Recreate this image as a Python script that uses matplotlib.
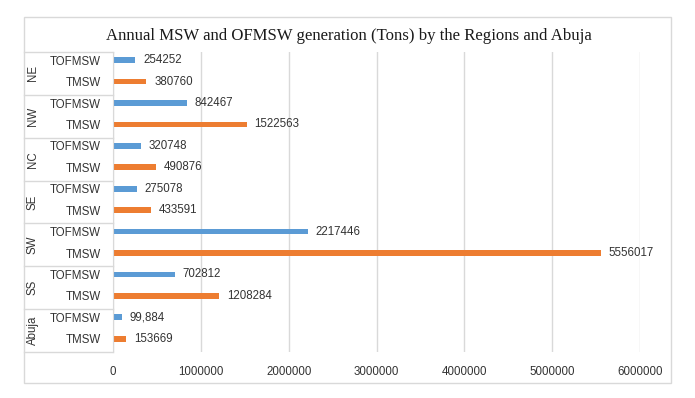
import matplotlib.pyplot as plt
import matplotlib.transforms as mtransforms
from matplotlib.lines import Line2D
from matplotlib.patches import Rectangle
import numpy as np

# regions top -> bottom, each with two rows (TOFMSW above TMSW)
regions = ["NE", "NW", "NC", "SE", "SW", "SS", "Abuja"]
tofmsw = [254252, 842467, 320748, 275078, 2217446, 702812, 99884]
tmsw = [380760, 1522563, 490876, 433591, 5556017, 1208284, 153669]
tofmsw_labels = ["254252", "842467", "320748", "275078", "2217446", "702812", "99,884"]
tmsw_labels = ["380760", "1522563", "490876", "433591", "5556017", "1208284", "153669"]
row_names = ["TOFMSW", "TMSW"]
xticks = [0, 1000000, 2000000, 3000000, 4000000, 5000000, 6000000]

W, H = 695, 398
fig = plt.figure(figsize=(W / 100, H / 100), dpi=100)
plt.rcParams['font.family'] = ['Liberation Sans', 'DejaVu Sans']
fs = 8.3
tc = "#333333"

# chart area border
fig.patches.append(Rectangle((24 / W, 1 - 383 / H), (671 - 24) / W, (383 - 17) / H,
                             transform=fig.transFigure, fill=False,
                             edgecolor="#D9D9D9", linewidth=1))

ax = fig.add_axes([113 / W, 1 - 352 / H, (640 - 113) / W, (352 - 52) / H])

n = len(regions)
y_top = np.arange(n) * 2
y_bot = y_top + 1
h = 0.27
b1 = ax.barh(y_top, tofmsw, height=h, color="#5B9BD5")
b2 = ax.barh(y_bot, tmsw, height=h, color="#ED7D31")
ax.bar_label(b1, labels=tofmsw_labels, padding=5.5, fontsize=fs, color=tc)
ax.bar_label(b2, labels=tmsw_labels, padding=5.5, fontsize=fs, color=tc)

ax.set_ylim(2 * n - 0.38, -0.38)
ax.set_xlim(0, 6000000)
ax.set_xticks(xticks)
ax.set_xticklabels([str(v) for v in xticks], fontsize=fs, color=tc)
ax.set_yticks(np.arange(2 * n))
ax.set_yticklabels(row_names * n, fontsize=fs, color=tc)
ax.tick_params(axis="y", length=0, pad=8.6)
ax.tick_params(axis="x", length=0, pad=10)
ax.grid(axis="x", color="#D9D9D9", linewidth=1)
ax.set_axisbelow(True)
for s in ["top", "right", "bottom"]:
    ax.spines[s].set_visible(False)
ax.spines["left"].set_color("#D9D9D9")

# category group boxes
trans = mtransforms.blended_transform_factory(fig.transFigure, ax.transAxes)
for k in range(n + 1):
    yy = 1 - k / n
    ax.add_line(Line2D([24 / W, 113 / W], [yy, yy], transform=trans,
                       color="#D9D9D9", linewidth=1, clip_on=False))
for k, r in enumerate(regions):
    ax.text(33 / W, 1 - (k + 0.5) / n, r, transform=trans, rotation=90,
            ha="center", va="center", fontsize=fs, color=tc)

fig.text(349 / W, 1 - 36 / H, "Annual MSW and OFMSW generation (Tons) by the Regions and Abuja",
         ha="center", va="center", fontsize=12.1, family="Liberation Serif", color="#1a1a1a")

plt.savefig("out.png", dpi=100)
